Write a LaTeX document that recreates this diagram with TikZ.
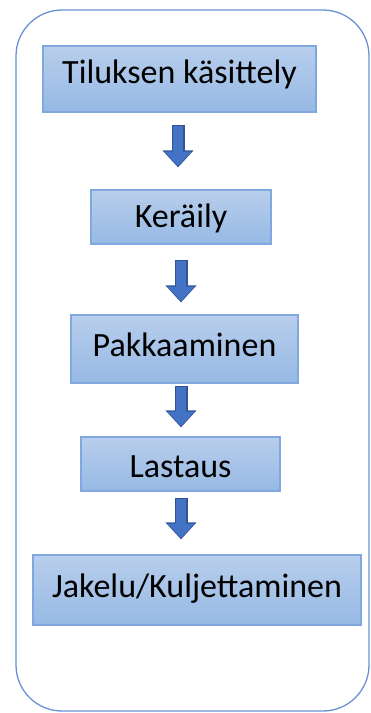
\documentclass[tikz,border=0pt]{standalone}
\usepackage{fontspec}
\setmainfont{Carlito}
\usetikzlibrary{positioning,arrows.meta}

\definecolor{boxtop}{RGB}{184,206,236}
\definecolor{boxbot}{RGB}{150,185,228}
\definecolor{boxline}{RGB}{128,168,222}
\definecolor{frameline}{RGB}{105,145,212}
\definecolor{flowblue}{RGB}{68,114,196}
\definecolor{flowedge}{RGB}{47,85,151}

\begin{document}
\begin{tikzpicture}[x=1pt,y=1pt,on grid,
  stage/.style={draw=boxline,line width=1.2pt,top color=boxtop,bottom color=boxbot,
    inner sep=0pt,text height=24pt,text depth=3pt,font=\fontsize{34}{40}\selectfont},
  flowout/.style={draw=flowedge,line width=13pt,-{Triangle[length=17pt,width=30pt]}},
  flowin/.style={draw=flowblue,line width=10.6pt,-{Triangle[length=14.6pt,width=26pt]}}]
  \useasboundingbox (0,0) rectangle (371,-713);

  % frame round the whole chain
  \draw[frameline,line width=1.3pt,rounded corners=46pt] (16,-10) rectangle (369,-711);

  \node[stage,minimum width=273pt,minimum height=66pt,text depth=16pt] (k1) at (179.5,-79) {Tiluksen käsittely};
  \node[stage,minimum width=180pt,minimum height=54pt] (k2) [below=138pt of k1,xshift=1.5pt] {Keräily};
  \node[stage,minimum width=227pt,minimum height=68pt,text depth=10pt] (k3) [below=132pt of k2,xshift=3.5pt] {Pakkaaminen};
  \node[stage,minimum width=199pt,minimum height=54pt,text height=27pt,text depth=0pt] (k4) [below=115pt of k3,xshift=-4pt] {Lastaus};
  \node[stage,minimum width=328pt,minimum height=70pt,text depth=10pt] (k5) [below=126pt of k4,xshift=16.5pt] {Jakelu/Kuljettaminen};

  % block arrows between the steps
  \foreach \a/\b/\dx/\s/\t in {k1/k2/-1.5/12/22, k2/k3/0/15/12, k3/k4/-3.5/2/9, k4/k5/0.5/6/15} {
    \draw[flowout,shorten <=\s,shorten >=\t] ([xshift=\dx]\a.south) -- ([xshift=\dx]\a.south |- \b.north);
    \draw[flowin,shorten <=\s+1.2,shorten >=\t+1.3] ([xshift=\dx]\a.south) -- ([xshift=\dx]\a.south |- \b.north);
  }
\end{tikzpicture}
\end{document}
